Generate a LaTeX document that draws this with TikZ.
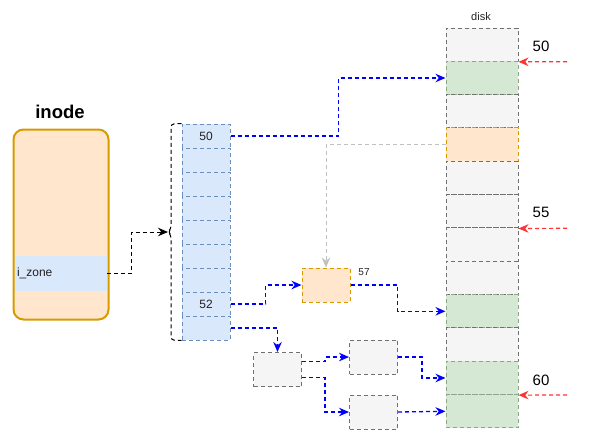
\documentclass[tikz,border=0pt]{standalone}
\usepackage{fontspec}
\setmainfont{Liberation Sans}
\usetikzlibrary{arrows.meta}
\definecolor{inodefill}{HTML}{FFE6CC}
\definecolor{inodeline}{HTML}{D79B00}
\definecolor{zonefill}{HTML}{DAE8FC}
\definecolor{zoneline}{HTML}{6C8EBF}
\definecolor{okfill}{HTML}{D5E8D4}
\definecolor{okline}{HTML}{8FA588}
\definecolor{grayfill}{HTML}{F5F5F5}
\definecolor{grayline}{HTML}{707070}
\definecolor{linkblue}{HTML}{0000FF}
\definecolor{linkred}{HTML}{FF3333}
\definecolor{linkgray}{HTML}{C0C0C0}
\definecolor{txt}{HTML}{222222}

\begin{document}
\begin{tikzpicture}[x=1pt,y=-1pt,
    dsh/.style={line width=1pt,dash pattern=on 4pt off 3pt},
    dcell/.style={dsh,minimum width=72pt,minimum height=33.33pt,inner sep=0pt},
    gcell/.style={dcell,fill=grayfill,draw=grayline},
    okcell/.style={dcell,fill=okfill,draw=okline},
    ocell/.style={dcell,fill=inodefill,draw=inodeline},
    ptr/.style={dsh,fill=zonefill,draw=zoneline,minimum width=48pt,minimum height=24pt,inner sep=0pt},
    blk/.style={dsh,minimum width=48pt,minimum height=34pt,inner sep=0pt},
    tipk/.style={-{Stealth[length=10pt,width=8.5pt]}},
    link/.style={draw=linkblue,dsh,line width=1.3pt,tipk},
    rlink/.style={draw=linkred,dsh,line width=1.2pt,tipk},
    glink/.style={draw=linkgray,dsh,tipk},
    lbl/.style={text=txt,font=\fontsize{12}{14}\selectfont}
  ]
  \useasboundingbox (0,0) rectangle (594,447);

  \node[draw=inodeline,fill=inodefill,line width=2pt,rounded corners=10pt,
    minimum width=95pt,minimum height=190pt] (inode) at (61,224.5) {};
  \node[font=\bfseries\fontsize{18.5}{22}\selectfont] (title) at (60,112) {inode};
  \node[fill=zonefill,minimum height=35pt,text width=88pt,inner xsep=2pt,inner ysep=0pt,
    align=left,lbl] (izone) at (61,273.5) {i\_zone};

  \foreach \i in {0,...,8}
    \node[ptr] (p\i) at (206,{136+24*\i}) {};
  \node[lbl] (n50) at (p0) {50};
  \node[lbl] (n52) at (p7) {52};
  \draw[dsh,rounded corners=3pt] (p0.north west) -- (171,124) -- (171,229) -- (168,232)
    -- (171,235) -- (171,340) -- (p8.south west);
  \coordinate (tip) at (168,232);

  \foreach \i/\s in {0/gcell,1/okcell,2/gcell,3/ocell,4/gcell,5/gcell,6/gcell,7/gcell,
      8/okcell,9/gcell,10/okcell,11/okcell}
    \node[\s] (d\i) at (482,{44.67+33.33*\i}) {};
  \node[text=txt,font=\fontsize{11}{13}\selectfont] (disk) at (481,17) {disk};

  \node[blk,fill=inodefill,draw=inodeline] (b57) at (326,285) {};
  \node[text=txt,font=\fontsize{10}{12}\selectfont] (n57) at (364,272) {57};
  \node[blk,fill=grayfill,draw=grayline] (ba) at (277.5,369.5) {};
  \node[blk,fill=grayfill,draw=grayline] (bb) at (373.5,357) {};
  \node[blk,fill=grayfill,draw=grayline] (bc) at (373.5,412) {};

  \draw[dsh,tipk] (izone.east) -- ++(24,0) |- (tip);
  \draw[link] (p0.east) -- ++(108,0) |- (d1.west);
  \draw[glink] (d3.west) -| (b57.north);
  \draw[link] (p7.east) -- ++(35,0) |- (b57.west);
  \draw[link] (b57.east) -- ++(47,0) |- (d8.west);
  \draw[link] (p8.east) -| (ba.north);
  \draw[link] ([yshift=8pt]ba.east) -- ++(23,0) |- (bb.west);
  \draw[link] ([yshift=-8pt]ba.east) -- ++(23,0) |- (bc.west);
  \draw[link] (bb.east) -- ++(24,0) |- (d10.west);
  \draw[link] (bc.east) -- (d11.west);

  \coordinate (r50) at (567,61.67);
  \coordinate (r55) at (567,228.3);
  \coordinate (r60) at (567,395);
  \draw[rlink] (r50) -- (d0.south east);
  \draw[rlink] (r55) -- (d5.south east);
  \draw[rlink] (r60) -- (d10.south east);
  \node[font=\fontsize{15}{18}\selectfont] (l50) at (541,46) {50};
  \node[font=\fontsize{15}{18}\selectfont] (l55) at (541,212) {55};
  \node[font=\fontsize{15}{18}\selectfont] (l60) at (541,380) {60};
\end{tikzpicture}
\end{document}
